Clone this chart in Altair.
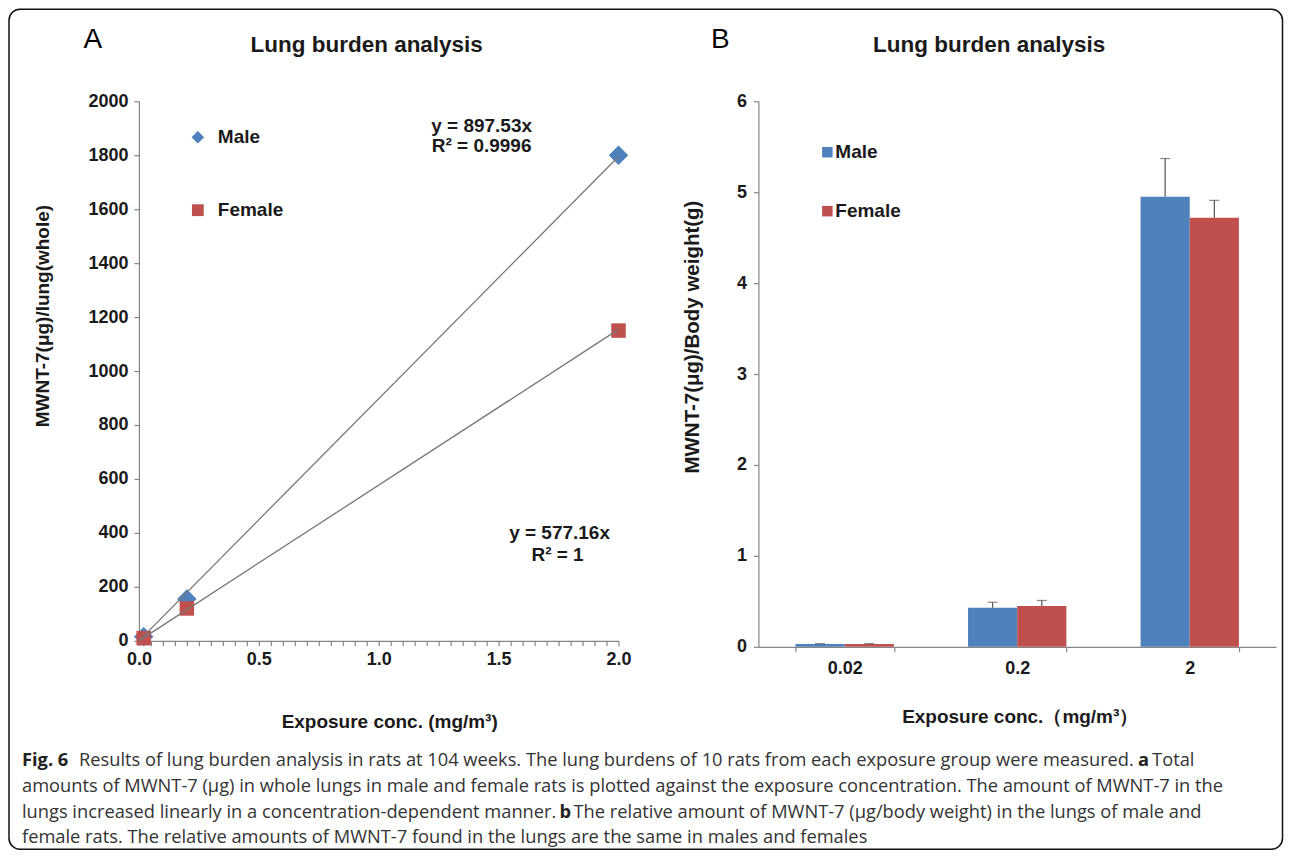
import altair as alt
import pandas as pd

# ---------------- data ----------------
SEXES = ["Male", "Female"]
COLORS = ["#4F81BD", "#C0504D"]

# Panel A: whole-lung burden
CONC_A = [0.02, 0.2, 2.0]
MALE_A = [15, 155, 1800]
FEMALE_A = [10, 120, 1150]
SLOPES = [897.53, 577.16]          # fitted trend lines y = a*x (from the chart)
TREND_X = [0.0, 2.0]
EQ_TEXT = ["y = 897.53x", "R² = 0.9996", "y = 577.16x", "R² = 1"]
X_MAJOR_A = [0.0, 0.5, 1.0, 1.5, 2.0]
X_MINOR_STEP_A = 0.05
Y_TICKS_A = [0, 200, 400, 600, 800, 1000, 1200, 1400, 1600, 1800, 2000]

# Panel B: relative burden
CONC_B = ["0.02", "0.2", "2"]
MALE_B = [0.03, 0.43, 4.95]
MALE_B_ERR = [0.005, 0.06, 0.42]
FEMALE_B = [0.03, 0.45, 4.72]
FEMALE_B_ERR = [0.005, 0.06, 0.19]
Y_TICKS_B = [0, 1, 2, 3, 4, 5, 6]

TITLE = "Lung burden analysis"
XTITLE_A = "Exposure conc. (mg/m³)"
YTITLE_A = "MWNT-7(μg)/lung(whole)"
XTITLE_B = "Exposure conc.（mg/m³）"
YTITLE_B = "MWNT-7(μg)/Body weight(g)"

CAP_L1 = ["Fig. 6",
          "Results of lung burden analysis in rats at 104 weeks. The lung burdens of 10 rats from each exposure group were measured.",
          "a", "Total"]
CAP_L2 = ["amounts of MWNT-7 (μg) in whole lungs in male and female rats is plotted against the exposure concentration. The amount of MWNT-7 in the"]
CAP_L3 = ["lungs increased linearly in a concentration-dependent manner.", "b",
          "The relative amount of MWNT-7 (μg/body weight) in the lungs of male and"]
CAP_L4 = ["female rats. The relative amounts of MWNT-7 found in the lungs are the same in males and females"]

# ---------------- tables ----------------
pts_a = pd.DataFrame({
    "conc": CONC_A * 2,
    "val": MALE_A + FEMALE_A,
    "sex": ["Male"] * 3 + ["Female"] * 3,
})
trend = pd.DataFrame({
    "conc": TREND_X * 2,
    "val": [SLOPES[0] * x for x in TREND_X] + [SLOPES[1] * x for x in TREND_X],
    "sex": ["Male"] * 2 + ["Female"] * 2,
})
bars_b = pd.DataFrame({
    "conc": CONC_B * 2,
    "val": MALE_B + FEMALE_B,
    "err": MALE_B_ERR + FEMALE_B_ERR,
    "sex": ["Male"] * 3 + ["Female"] * 3,
})
bars_b["hi"] = bars_b["val"] + bars_b["err"]

FONT = "Liberation Sans"
CAPFONT = "Open Sans"
AXC = "#868686"
TXT = "#1a1a1a"
CAPSIZE = 18.3

color_scale = alt.Scale(domain=SEXES, range=COLORS)


def txt(s, x, y, size=19, weight="bold", align="center", angle=0, font=FONT, color=TXT):
    kw = dict(font=font, fontSize=size, fontWeight=weight, align=align,
              baseline="middle", color=color)
    if angle:
        kw["angle"] = angle
    return alt.Chart(pd.DataFrame({"t": [s]})).mark_text(**kw).encode(
        x=alt.value(x), y=alt.value(y), text="t:N")


def cap(s, x, y, bold=False):
    return txt(s, x, y, size=CAPSIZE, weight="bold" if bold else "normal", align="left",
               font=CAPFONT, color="#222" if bold else "#333")


# ---------------- panel A ----------------
n_minor = int(round(X_MAJOR_A[-1] / X_MINOR_STEP_A))
x_minor = [round(i * X_MINOR_STEP_A, 2) for i in range(n_minor + 1)]
major_set = ",".join(str(v) for v in X_MAJOR_A)

xA = alt.X("conc:Q", scale=alt.Scale(domain=[X_MAJOR_A[0], X_MAJOR_A[-1]], nice=False),
           axis=alt.Axis(values=x_minor, title=None, labelFlush=False, labelOverlap=False,
                         labelExpr="indexof([" + major_set + "], round(datum.value*100)/100) >= 0 ? format(datum.value, '.1f') : ''",
                         labelPadding=5))
yA = alt.Y("val:Q", scale=alt.Scale(domain=[0, 2000], nice=False),
           axis=alt.Axis(values=Y_TICKS_A, title=None, format="d", labelPadding=6))

frame = alt.Chart(pd.DataFrame({"k": [0]})).mark_rect(
    fill="transparent", stroke="#111", strokeWidth=1.5, cornerRadius=11
).encode(x=alt.value(-130), x2=alt.value(1144.5), y=alt.value(-92), y2=alt.value(748.5))

male_pts = alt.Chart(pts_a[pts_a.sex == "Male"]).mark_point(
    filled=True, opacity=1, shape="diamond", size=380, color=COLORS[0]).encode(x=xA, y=yA)
female_pts = alt.Chart(pts_a[pts_a.sex == "Female"]).mark_point(
    filled=True, opacity=1, shape="square", size=210, color=COLORS[1]).encode(x=xA, y=yA)
lines = alt.Chart(trend).mark_line(color="#767676", strokeWidth=1.3).encode(
    x=xA, y=yA, detail="sex:N")

leg_a = [
    alt.Chart(pd.DataFrame({"sex": [SEXES[0]]})).mark_point(
        filled=True, opacity=1, shape="diamond", size=160).encode(
        x=alt.value(59), y=alt.value(36), color=alt.Color("sex:N", scale=color_scale, legend=None)),
    alt.Chart(pd.DataFrame({"sex": [SEXES[1]]})).mark_point(
        filled=True, opacity=1, shape="square", size=140).encode(
        x=alt.value(59), y=alt.value(109), color=alt.Color("sex:N", scale=color_scale, legend=None)),
    txt(SEXES[0], 79, 36, align="left"),
    txt(SEXES[1], 79, 109, align="left"),
]

ann_a = [
    txt("A", -46, -61, size=28, weight="normal", color="#000"),
    txt(TITLE, 228, -56, size=22.5),
    txt(EQ_TEXT[0], 343, 25), txt(EQ_TEXT[1], 343, 45),
    txt(EQ_TEXT[2], 421, 432), txt(EQ_TEXT[3], 419, 454),
    txt(XTITLE_A, 251, 621),
    txt(YTITLE_A, -96, 215, size=19, angle=270),
]

caption = [
    cap(CAP_L1[0], -117, 660, bold=True),
    cap(CAP_L1[1], -60, 660),
    cap(CAP_L1[2], 1000, 660, bold=True),
    cap(CAP_L1[3], 1014, 660),
    cap(CAP_L2[0], -117, 686),
    cap(CAP_L3[0], -117, 712),
    cap(CAP_L3[1], 421, 712, bold=True),
    cap(CAP_L3[2], 435, 712),
    cap(CAP_L4[0], -117, 737),
]

panel_a = alt.layer(frame, male_pts, female_pts, lines, *leg_a, *ann_a, *caption).properties(
    width=480, height=540)

# ---------------- panel B ----------------
xB = alt.X("conc:N", sort=CONC_B,
           scale=alt.Scale(domain=CONC_B, paddingInner=0.43, paddingOuter=0.215),
           axis=alt.Axis(title=None, labelAngle=0, tickBand="extent", labelPadding=8))
xoB = alt.XOffset("sex:N", sort=SEXES, scale=alt.Scale(domain=SEXES))
yB = alt.Y("val:Q", scale=alt.Scale(domain=[0, 6], nice=False),
           axis=alt.Axis(values=Y_TICKS_B, title=None, format="d", labelPadding=7))

bars = alt.Chart(bars_b).mark_bar().encode(
    x=xB, xOffset=xoB, y=yB,
    color=alt.Color("sex:N", scale=color_scale, legend=None))
err_rule = alt.Chart(bars_b).mark_rule(color="#555", strokeWidth=1.2).encode(
    x=xB, xOffset=xoB, y="val:Q", y2="hi:Q")
err_cap = alt.Chart(bars_b).mark_tick(color="#555", thickness=1.2, size=10, orient="horizontal").encode(
    x=xB, xOffset=xoB, y="hi:Q")

leg_b = [
    alt.Chart(pd.DataFrame({"sex": [SEXES[0]]})).mark_square(size=110, opacity=1).encode(
        x=alt.value(69), y=alt.value(51), color=alt.Color("sex:N", scale=color_scale, legend=None)),
    alt.Chart(pd.DataFrame({"sex": [SEXES[1]]})).mark_square(size=110, opacity=1).encode(
        x=alt.value(69), y=alt.value(110), color=alt.Color("sex:N", scale=color_scale, legend=None)),
    txt(SEXES[0], 77, 51, align="left"),
    txt(SEXES[1], 77, 110, align="left"),
]
ann_b = [
    txt("B", -38, -61, size=28, weight="normal", color="#000"),
    txt(TITLE, 231, -56, size=22.5),
    txt(XTITLE_B, 262, 616),
    txt(YTITLE_B, -65, 236, size=20.5, angle=270),
]

panel_b = alt.layer(bars, err_rule, err_cap, *leg_b, *ann_b).properties(width=518, height=546)

chart = alt.hconcat(panel_a, panel_b, spacing=140, bounds="flush").properties(
    padding=0
).configure(
    padding=0, background="white"
).configure_view(strokeWidth=0).configure_axis(
    grid=False, domainColor=AXC, tickColor=AXC, tickSize=5, domainWidth=1.2, tickWidth=1.2,
    labelFont=FONT, labelFontSize=18, labelFontWeight="bold", labelColor=TXT,
)

chart.save("out.html", embed_options={"renderer": "svg", "actions": False})
